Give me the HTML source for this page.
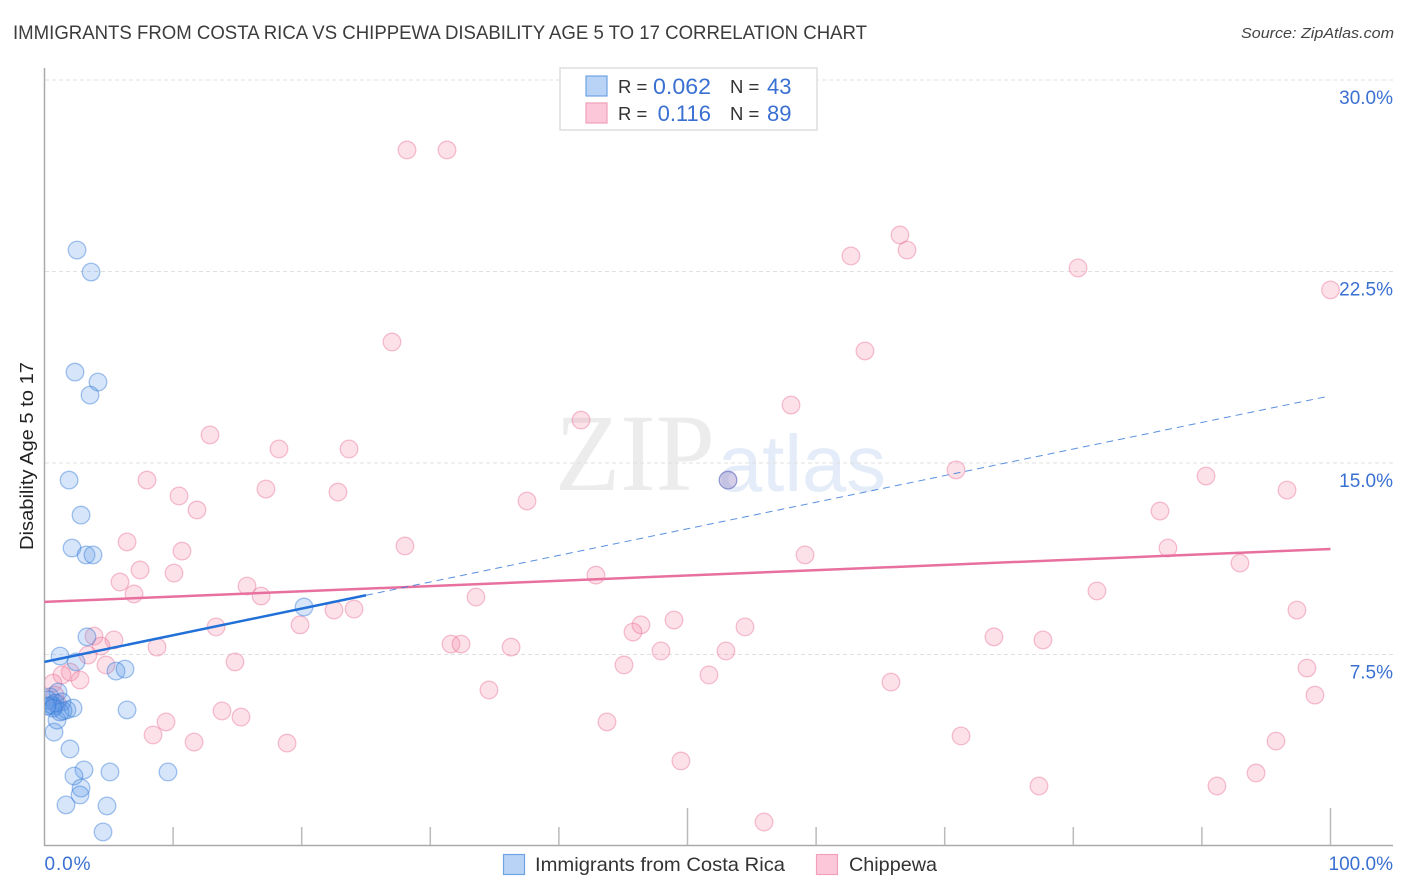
<!DOCTYPE html>
<html>
<head>
<meta charset="utf-8">
<title>Immigrants from Costa Rica vs Chippewa Disability Age 5 to 17 Correlation Chart</title>
<style>
html,body{margin:0;padding:0;background:#fff;width:1406px;height:892px;overflow:hidden}
svg{display:block;font-family:"Liberation Sans",sans-serif}
</style>
</head>
<body>
<svg id="chart" width="1406" height="892" viewBox="0 0 1406 892" xmlns="http://www.w3.org/2000/svg">
  <defs>
    <clipPath id="plot-clip"><rect x="45" y="60" width="1360" height="786"/></clipPath>
  </defs>
  <rect x="0" y="0" width="1406" height="892" fill="#fff"/>
  <text x="13" y="39" font-size="19.5" fill="#3c3c3c" textLength="854" lengthAdjust="spacingAndGlyphs">IMMIGRANTS FROM COSTA RICA VS CHIPPEWA DISABILITY AGE 5 TO 17 CORRELATION CHART</text>
  <text x="1394" y="38" font-size="15" font-style="italic" fill="#444" text-anchor="end" textLength="153" lengthAdjust="spacingAndGlyphs">Source: ZipAtlas.com</text>
  <g>
    <text x="555" y="490" font-family="'Liberation Serif',serif" font-size="110" fill="#ececec" textLength="160" lengthAdjust="spacingAndGlyphs">ZIP</text>
    <text x="718" y="491" font-size="80" fill="#e3ecf8" textLength="168" lengthAdjust="spacingAndGlyphs">atlas</text>
  </g>
  <g id="grid"></g>
  <g id="axes"></g>
  <g id="pink-points" clip-path="url(#plot-clip)"></g>
  <g id="blue-points" clip-path="url(#plot-clip)"></g>
  <g id="trends"></g>
  <text transform="translate(33,456) rotate(-90)" font-size="18" fill="#222" text-anchor="middle" textLength="188" lengthAdjust="spacingAndGlyphs">Disability Age 5 to 17</text>
  <g>
    <rect x="560" y="68" width="257" height="62" fill="#fff" stroke="#ddd" stroke-width="1.5"/>
    <rect x="586" y="76" width="21" height="20" fill="#b9d3f6" stroke="#6fa3e4" stroke-width="1.2"/>
    <rect x="586" y="103" width="21" height="20" fill="#fcc8d9" stroke="#f0a0b8" stroke-width="1.2"/>
    <text x="618" y="93" font-size="18.5" fill="#333">R =</text>
    <text x="711" y="94" font-size="22" fill="#3a70d2" text-anchor="end" textLength="58" lengthAdjust="spacingAndGlyphs">0.062</text>
    <text x="730" y="93" font-size="18.5" fill="#333">N =</text>
    <text x="767" y="94" font-size="22" fill="#3a70d2">43</text>
    <text x="618" y="120" font-size="18.5" fill="#333">R =</text>
    <text x="711" y="121" font-size="22" fill="#3a70d2" text-anchor="end">0.116</text>
    <text x="730" y="120" font-size="18.5" fill="#333">N =</text>
    <text x="767" y="121" font-size="22" fill="#3a70d2">89</text>
  </g>
  <g>
    <rect x="503.5" y="854.5" width="21" height="20" fill="#b9d3f6" stroke="#6fa3e4" stroke-width="1.2"/>
    <text x="535" y="871" font-size="19.5" fill="#333" textLength="250" lengthAdjust="spacingAndGlyphs">Immigrants from Costa Rica</text>
    <rect x="816.5" y="854.5" width="21" height="20" fill="#fcc8d9" stroke="#f0a0b8" stroke-width="1.2"/>
    <text x="849" y="871" font-size="19.5" fill="#333" textLength="88" lengthAdjust="spacingAndGlyphs">Chippewa</text>
  </g>
</svg>
<script>
const blueX = [2.53,3.62,2.37,4.16,3.54,1.91,2.84,2.14,3.23,3.77,3.30,1.21,2.45,5.56,6.26,6.42,20.18,53.15,1.98,0.74,0.97,3.07,2.29,5.09,9.60,2.84,2.76,1.67,4.86,4.55,0.43,0.58,0.74,1.05,1.36,1.75,2.22,1.21,1.44,0.27,0.82,0.66,0.19];
const blueY = [23.34,22.48,18.56,18.17,17.66,14.33,12.96,11.67,11.40,11.40,8.19,7.44,7.21,6.85,6.93,5.33,9.36,14.33,3.80,4.46,4.93,2.98,2.74,2.90,2.90,2.27,2.00,1.61,1.57,0.55,5.84,5.52,5.48,6.03,5.64,5.33,5.40,5.25,5.29,5.72,5.60,5.40,5.48];
const pinkX = [28.19,31.30,66.52,62.71,67.07,80.37,100,27.02,63.80,58.05,41.72,12.87,18.23,23.68,7.97,70.88,90.32,96.62,17.22,22.82,10.46,11.86,37.52,86.74,53.15,6.42,28.03,10.69,87.36,59.14,92.96,7.43,10.07,42.88,5.87,15.75,6.96,16.84,33.55,81.84,22.51,24.07,97.39,19.87,13.34,48.95,46.38,45.76,54.47,73.83,77.64,3.85,5.40,4.39,31.61,32.39,8.75,36.28,47.94,52.99,3.38,14.81,45.06,98.17,4.78,2.00,0.97,1.36,2.76,51.67,65.82,34.56,98.79,13.80,15.28,9.45,43.74,8.44,71.27,11.63,18.86,95.76,49.49,94.21,77.33,91.17,55.95,0.66,0.82];
const pinkY = [27.26,27.26,23.93,23.11,23.34,22.64,21.78,19.74,19.39,17.27,16.68,16.10,15.55,15.55,14.33,14.73,14.49,13.94,13.98,13.86,13.71,13.16,13.51,13.12,14.33,11.91,11.75,11.55,11.67,11.40,11.08,10.81,10.69,10.61,10.34,10.18,9.87,9.79,9.75,9.99,9.24,9.28,9.24,8.66,8.58,8.85,8.66,8.38,8.58,8.19,8.07,8.22,8.07,7.83,7.91,7.91,7.79,7.79,7.64,7.64,7.48,7.21,7.09,6.97,7.09,6.81,5.60,6.70,6.50,6.70,6.42,6.11,5.91,5.29,5.05,4.86,4.86,4.35,4.31,4.07,4.03,4.11,3.33,2.86,2.35,2.35,0.94,6.38,5.91];
const yTickValues = [30,22.5,15,7.5];
const yTickLabels = ["30.0%","22.5%","15.0%","7.5%"];
const xTickValues = [10,20,30,40,50,60,70,80,90,100];
const xEdgeValues = [0,100];
const xEdgeLabels = ["0.0%","100.0%"];
const pinkTrendX = [0,100];
const pinkTrendY = [9.56,11.63];
const blueSolidX = [0,25];
const blueSolidY = [7.21,9.82];
const blueDashX = [25,99.7];
const blueDashY = [9.82,17.6];

const NS = "http://www.w3.org/2000/svg";
function sx(v){ return 44.5 + v * 12.86; }
function sy(v){ return 846 - v * 25.533; }
function make(tag, parent, attrs){
  const el = document.createElementNS(NS, tag);
  for (const k in attrs) el.setAttribute(k, attrs[k]);
  parent.appendChild(el);
  return el;
}
const grid = document.getElementById("grid");
const axes = document.getElementById("axes");
yTickValues.forEach(function(v, i){
  const line = make("line", grid, {x1:45, x2:1393, y1:sy(v), y2:sy(v), stroke:"#e0e0e0", "stroke-width":1, "stroke-dasharray":"4 3"});
  
  
  const label = make("text", axes, {x:1393, y:sy(v)+24, "font-size":19, fill:"#3a70d2", "text-anchor":"end"});
  label.textContent = yTickLabels[i];
  
  
});
const yAxis = make("line", axes, {x1:44.5, x2:44.5, y1:68, y2:846, stroke:"#aaa", "stroke-width":1.5});


const xAxis = make("line", axes, {x1:44, x2:1393, y1:845.5, y2:845.5, stroke:"#aaa", "stroke-width":1.5});


xTickValues.forEach(function(v){
  const len = v % 50 === 0 ? 37 : 18;
  const tick = make("line", axes, {x1:sx(v), x2:sx(v), y1:845, y2:845-len, stroke:"#bbb", "stroke-width":1.5});
  
  
});
xEdgeValues.forEach(function(v, i){
  const label = make("text", axes, {x: i === 0 ? sx(v) : 1393, y:870, "font-size":19, "letter-spacing": i === 0 ? 0.9 : 0, fill:"#3a70d2", "text-anchor": i === 0 ? "start" : "end"});
  label.textContent = xEdgeLabels[i];
  
  
});
const pinkGroup = document.getElementById("pink-points");
pinkX.forEach(function(v, i){
  const c = make("circle", pinkGroup, {cx:sx(v), cy:sy(pinkY[i]), r:8.8, fill:"rgba(246,130,165,0.24)", stroke:"rgba(232,110,150,0.42)", "stroke-width":1.3});
  
  
});
const blueGroup = document.getElementById("blue-points");
blueX.forEach(function(v, i){
  const c = make("circle", blueGroup, {cx:sx(v), cy:sy(blueY[i]), r:8.8, fill:"rgba(90,150,230,0.25)", stroke:"rgba(50,120,215,0.44)", "stroke-width":1.3});
  
  
});
const trends = document.getElementById("trends");
const pinkTrend = make("line", trends, {x1:sx(pinkTrendX[0]), y1:sy(pinkTrendY[0]), x2:sx(pinkTrendX[1]), y2:sy(pinkTrendY[1]), stroke:"#e8709f", "stroke-width":2.5});


const blueDash = make("line", trends, {x1:sx(blueDashX[0]), y1:sy(blueDashY[0]), x2:sx(blueDashX[1]), y2:sy(blueDashY[1]), stroke:"#2f74d6", "stroke-width":1, "stroke-opacity":0.8, "stroke-dasharray":"7 5"});


const blueSolid = make("line", trends, {x1:sx(blueSolidX[0]), y1:sy(blueSolidY[0]), x2:sx(blueSolidX[1]), y2:sy(blueSolidY[1]), stroke:"#2170d8", "stroke-width":2.5});


</script>
</body>
</html>
